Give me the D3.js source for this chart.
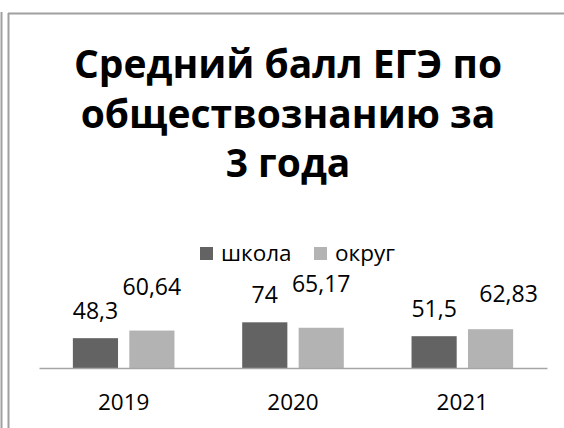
<!DOCTYPE html>
<html>
<head>
<meta charset="utf-8">
<script src="https://cdn.jsdelivr.net/npm/d3@7"></script>
<style>
    body { margin: 0; background: #fff; }
    svg { display: block; font-family: "Open Sans", sans-serif; }
    .title { font-weight: bold; fill: #000; }
    .label { fill: #000; }
</style>
</head>
<body>
<div id="chart"></div>
<script>
// data
let years = ["2019", "2020", "2021"];
let series = ["школа", "округ"];
let school = [48.3, 74, 51.5];
let district = [60.64, 65.17, 62.83];
let titleLines = ["Средний балл ЕГЭ по", "обществознанию за", "3 года"];

let colors = {"школа": "#636363", "округ": "#b3b3b3"};

let W = 564, H = 428;

let svg = d3.select("#chart").append("svg")
    .attr("width", W)
    .attr("height", H);

// frame (only left and top edges visible)
let frameColor = "#a0a0a0";
svg.append("line").attr("x1", 1.5).attr("x2", 1.5).attr("y1", 12).attr("y2", H)
    .attr("stroke", frameColor).attr("stroke-width", 2);
svg.append("line").attr("x1", 8.5).attr("x2", 8.5).attr("y1", 13).attr("y2", H)
    .attr("stroke", frameColor).attr("stroke-width", 2);
svg.append("line").attr("x1", 8).attr("x2", W).attr("y1", 13.5).attr("y2", 13.5)
    .attr("stroke", frameColor).attr("stroke-width", 2);

// title
svg.append("g").selectAll("text")
    .data(titleLines)
    .enter().append("text")
    .attr("class", "title")
    .attr("x", 288)
    .attr("y", (d, i) => 78 + i * 49.5)
    .attr("text-anchor", "middle")
    .style("font-size", "39px")
    .text(d => d);

// legend
let legend = svg.append("g").attr("class", "legend");
let legendX = [200, 314];
series.forEach(function (s, i) {
    legend.append("rect")
        .attr("x", legendX[i])
        .attr("y", 247)
        .attr("width", 13)
        .attr("height", 13)
        .attr("fill", colors[s]);
    legend.append("text")
        .attr("class", "label")
        .attr("x", legendX[i] + 21)
        .attr("y", 261)
        .style("font-size", "22.5px")
        .text(s);
});

// scales
let x0 = d3.scaleBand()
    .domain(years)
    .range([39, 547])
    .paddingInner(0.4)
    .paddingOuter(0.2);

let x1 = d3.scaleBand()
    .domain(series)
    .range([0, x0.bandwidth()])
    .paddingInner(0.2);

let y = d3.scaleLinear()
    .domain([0, 80])
    .range([368, 368 - 49.4]);

let rows = years.map((yr, i) => ({
    year: yr,
    values: [
        {key: "школа", value: school[i]},
        {key: "округ", value: district[i]}
    ]
}));

// bars
let groups = svg.append("g").selectAll("g")
    .data(rows)
    .enter().append("g")
    .attr("transform", d => "translate(" + x0(d.year) + ",0)");

groups.selectAll("rect")
    .data(d => d.values)
    .enter().append("rect")
    .attr("x", d => x1(d.key))
    .attr("y", d => y(d.value))
    .attr("width", x1.bandwidth())
    .attr("height", d => y(0) - y(d.value))
    .attr("fill", d => colors[d.key]);

// value labels (school sits closer to its bar, district labels were dragged higher)
let labelDy = {"школа": -19, "округ": -36};
let nudge = {"2021-округ": {dx: 18, dy: 9}};
let fmt = v => String(v).replace(".", ",");

groups.selectAll("text")
    .data(d => d.values.map(v => Object.assign({year: d.year}, v)))
    .enter().append("text")
    .attr("class", "label")
    .attr("text-anchor", "middle")
    .attr("x", function (d) {
        let n = nudge[d.year + "-" + d.key];
        return x1(d.key) + x1.bandwidth() / 2 + (n ? n.dx : 0);
    })
    .attr("y", function (d) {
        let n = nudge[d.year + "-" + d.key];
        return y(d.value) + labelDy[d.key] + (n ? n.dy : 0);
    })
    .style("font-size", "23px")
    .text(d => fmt(d.value));

// x axis
let xAxis = svg.append("g")
    .attr("transform", "translate(0," + y(0) + ")")
    .call(d3.axisBottom(x0).tickSize(0).tickSizeOuter(0));

xAxis.select(".domain")
    .attr("stroke", "#a6a6a6")
    .attr("stroke-width", 1.5);

xAxis.selectAll("text")
    .attr("class", "label")
    .attr("fill", "#000")
    .attr("dy", 0)
    .attr("y", 42)
    .style("font-family", "'Open Sans', sans-serif")
    .style("font-size", "22.5px");
</script>
</body>
</html>
